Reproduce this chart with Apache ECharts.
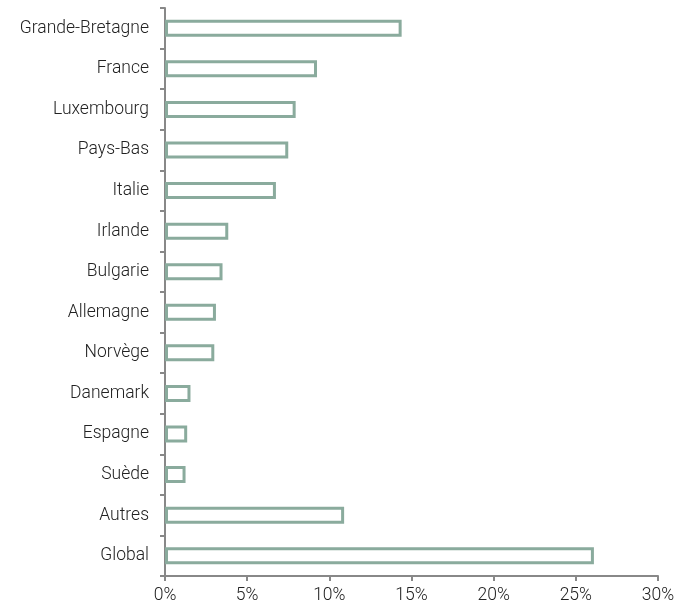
<!DOCTYPE html>
<html>
<head>
<meta charset="utf-8">
<script src="https://cdn.jsdelivr.net/npm/echarts@6/dist/echarts.min.js"></script>
<style>
  html, body { margin: 0; padding: 0; background: #fff; }
  #chart { width: 678px; height: 609px; }
</style>
</head>
<body>
<div id="chart"></div>
<script>
// categories, top to bottom
var pays = ['Grande-Bretagne', 'France', 'Luxembourg', 'Pays-Bas', 'Italie', 'Irlande',
	'Bulgarie', 'Allemagne', 'Norvège', 'Danemark', 'Espagne', 'Suède', 'Autres', 'Global'];
// values in %
var parts = [14.4, 9.25, 7.95, 7.5, 6.75, 3.85, 3.5, 3.1, 3.0, 1.55, 1.35, 1.25, 10.9, 26.1];
var ticksX = [0, 5, 10, 15, 20, 25, 30];

var myChart = echarts.init(document.getElementById('chart'));

var police = 'Roboto';
var gris = '#888';

option = {
	animation : false,
	grid : {
		left : 165,
		right : 20,
		top : 8,
		bottom : 33
	},
	xAxis : {
		type : 'value',
		min : ticksX[0],
		max : ticksX[ticksX.length - 1],
		interval : 5,
		splitLine : { show : false },
		axisLine : { show : true, lineStyle : { color : gris, width : 2 } },
		axisTick : { show : true, length : 5, lineStyle : { color : gris, width : 2 } },
		axisLabel : {
			formatter : '{value}%',
			color : '#222',
			fontSize : 17.5,
			fontFamily : police,
			fontWeight : 300,
			margin : 11
		}
	},
	yAxis : {
		type : 'category',
		data : pays,
		inverse : true,
		axisLine : { show : true, lineStyle : { color : gris, width : 2 } },
		axisTick : { show : true, length : 5, lineStyle : { color : gris, width : 2 } },
		axisLabel : {
			color : '#222',
			fontSize : 17.5,
			fontFamily : police,
			fontWeight : 300,
			margin : 16,
			padding : [3, 0, 0, 0]
		}
	},
	series : [{
		type : 'bar',
		data : parts,
		barWidth : 17,
		itemStyle : {
			color : '#fff',
			borderColor : '#8aab9d',
			borderWidth : 3
		}
	}]
};
myChart.setOption(option);
</script>
</body>
</html>
